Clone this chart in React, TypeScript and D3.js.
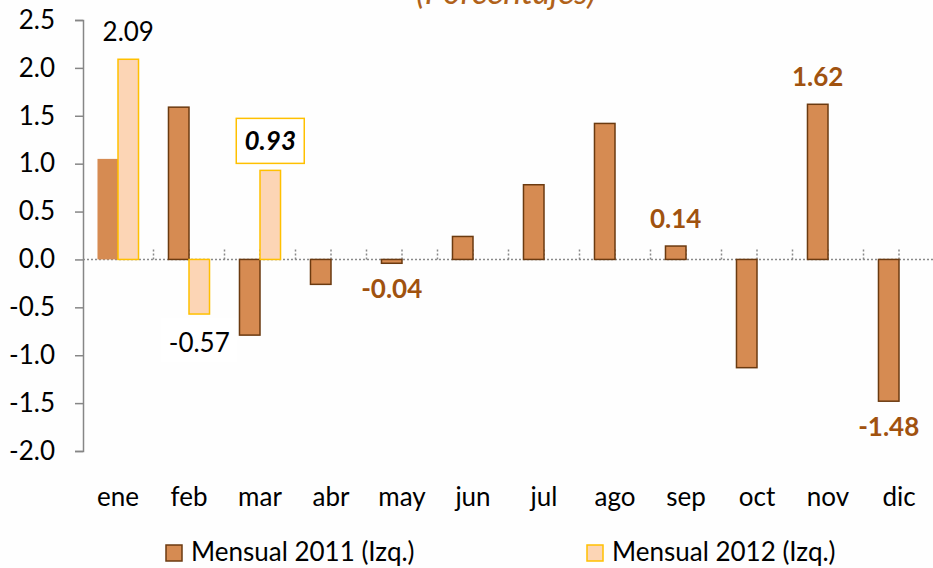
import { useEffect, useRef } from 'react';
import * as d3 from 'd3';

const months = ['ene', 'feb', 'mar', 'abr', 'may', 'jun', 'jul', 'ago', 'sep', 'oct', 'nov', 'dic'];
const mensual2011 = [1.05, 1.59, -0.79, -0.26, -0.04, 0.24, 0.78, 1.42, 0.14, -1.13, 1.62, -1.48];
const mensual2012 = [2.09, -0.57, 0.93];
const yTicks = [2.5, 2.0, 1.5, 1.0, 0.5, 0.0, -0.5, -1.0, -1.5, -2.0];
const seriesNames = ['Mensual 2011 (Izq.)', 'Mensual 2012 (Izq.)'];

const FONT = 'Lato, "Open Sans", sans-serif';
const FS = '26px';
const BROWN_FILL = '#D68B52';
const BROWN_STROKE = '#6B3A10';
const PEACH_FILL = '#FCD5B5';
const GOLD = '#FFC000';
const LABEL_BROWN = '#A0520F';

export default function App() {
  const svgRef = useRef<SVGSVGElement>(null);

  useEffect(() => {
    const width = 933;
    const height = 568;
    const svg = d3.select(svgRef.current);
    svg.selectAll('*').remove();
    svg.attr('width', width).attr('height', height);

    svg.append('rect').attr('width', width).attr('height', height).attr('fill', '#fefefe');

    const x = d3.scaleBand().domain(months).range([82.5, 934.5]).paddingInner(0);
    const sub = d3.scaleBand().domain(['2011', '2012']).range([0, x.bandwidth()]).paddingOuter(0.73);
    const y = d3.scaleLinear().domain([-2, 2.5]).range([451, 20]);
    const fmt = (v: number) => (v < 0 ? '-' : '') + Math.abs(v).toFixed(1);

    // title, mostly cut off at the top (as in the source)
    svg.append('text')
      .attr('x', 506).attr('y', 4)
      .attr('text-anchor', 'middle')
      .style('font-family', FONT).style('font-style', 'italic')
      .style('font-size', '34px').attr('fill', '#B0621A')
      .text('(Porcentajes)');

    // y axis
    const yAxis = svg.append('g')
      .attr('transform', 'translate(83,0)')
      .call(d3.axisLeft(y).tickValues(yTicks).tickFormat(d => fmt(+d)).tickSize(8).tickPadding(20));
    yAxis.select('.domain').attr('stroke', '#868686').attr('stroke-width', 1.5);
    yAxis.selectAll('.tick line').attr('stroke', '#868686').attr('stroke-width', 1.5);
    yAxis.selectAll('.tick text')
      .attr('fill', '#000')
      .style('font-family', FONT).style('font-size', FS);

    // zero line + small dotted ticks
    const y0 = y(0);
    svg.append('line')
      .attr('x1', 83).attr('x2', width).attr('y1', y0).attr('y2', y0)
      .attr('stroke', '#8a8a8a').attr('stroke-width', 1.5).attr('stroke-dasharray', '2,2');
    const tickXs: number[] = [];
    months.forEach((m, i) => {
      if (i > 0) tickXs.push(x(m)!);
      tickXs.push(x(m)! + x.bandwidth() / 2);
    });
    svg.append('g').selectAll('line')
      .data(tickXs)
      .join('line')
      .attr('x1', d => d).attr('x2', d => d)
      .attr('y1', y0 - 10).attr('y2', y0)
      .attr('stroke', '#8a8a8a').attr('stroke-width', 1.5).attr('stroke-dasharray', '2,2');

    // bars 2011
    svg.append('g').selectAll('rect')
      .data(mensual2011)
      .join('rect')
      .attr('x', (d, i) => x(months[i])! + sub('2011')!)
      .attr('width', sub.bandwidth())
      .attr('y', d => y(Math.max(0, d)))
      .attr('height', d => Math.abs(y(d) - y0))
      .attr('fill', BROWN_FILL)
      .attr('stroke', (d, i) => (i === 0 ? 'none' : BROWN_STROKE))
      .attr('stroke-width', 1.5);

    // bars 2012
    svg.append('g').selectAll('rect')
      .data(mensual2012)
      .join('rect')
      .attr('x', (d, i) => x(months[i])! + sub('2012')!)
      .attr('width', sub.bandwidth())
      .attr('y', d => y(Math.max(0, d)))
      .attr('height', d => Math.abs(y(d) - y0))
      .attr('fill', PEACH_FILL)
      .attr('stroke', GOLD)
      .attr('stroke-width', 1.5);

    const cx2011 = (i: number) => x(months[i])! + sub('2011')! + sub.bandwidth() / 2;
    const cx2012 = (i: number) => x(months[i])! + sub('2012')! + sub.bandwidth() / 2;

    // 2012 labels
    svg.append('text')
      .attr('x', cx2012(0)).attr('y', y(mensual2012[0]) - 18)
      .attr('text-anchor', 'middle')
      .style('font-family', FONT).style('font-size', FS)
      .text(mensual2012[0].toFixed(2));

    svg.append('rect')
      .attr('x', cx2012(1) - 38).attr('y', y(mensual2012[1]) + 4)
      .attr('width', 76).attr('height', 44).attr('fill', '#fff');
    svg.append('text')
      .attr('x', cx2012(1)).attr('y', y(mensual2012[1]) + 38)
      .attr('text-anchor', 'middle')
      .style('font-family', FONT).style('font-size', FS)
      .text(mensual2012[1].toFixed(2));

    svg.append('rect')
      .attr('x', cx2012(2) - 34).attr('y', y(mensual2012[2]) - 52)
      .attr('width', 68).attr('height', 45)
      .attr('fill', '#fff').attr('stroke', GOLD).attr('stroke-width', 1.5);
    svg.append('text')
      .attr('x', cx2012(2)).attr('y', y(mensual2012[2]) - 20)
      .attr('text-anchor', 'middle')
      .style('font-family', FONT).style('font-size', FS)
      .style('font-weight', 'bold').style('font-style', 'italic')
      .text(mensual2012[2].toFixed(2));

    // highlighted 2011 labels
    const labelled = [4, 8, 10, 11];
    svg.append('g').selectAll('text')
      .data(labelled)
      .join('text')
      .attr('x', i => cx2011(i))
      .attr('y', i => (mensual2011[i] >= 0 ? y(mensual2011[i]) - 18 : y(mensual2011[i]) + 35))
      .attr('text-anchor', 'middle')
      .attr('fill', LABEL_BROWN)
      .style('font-family', FONT).style('font-size', FS).style('font-weight', 'bold')
      .text(i => mensual2011[i].toFixed(2));

    // x labels
    svg.append('g').selectAll('text')
      .data(months)
      .join('text')
      .attr('x', d => x(d)! + x.bandwidth() / 2)
      .attr('y', 506)
      .attr('text-anchor', 'middle')
      .style('font-family', FONT).style('font-size', FS)
      .text(d => d);

    // legend
    const legend = [
      { name: seriesNames[0], x: 166, fill: BROWN_FILL, stroke: BROWN_STROKE },
      { name: seriesNames[1], x: 587, fill: PEACH_FILL, stroke: GOLD },
    ];
    const lg = svg.append('g').selectAll('g').data(legend).join('g');
    lg.append('rect')
      .attr('x', d => d.x).attr('y', 545).attr('width', 16).attr('height', 16)
      .attr('fill', d => d.fill).attr('stroke', d => d.stroke).attr('stroke-width', 1.5);
    lg.append('text')
      .attr('x', d => d.x + 25).attr('y', 561)
      .style('font-family', FONT).style('font-size', FS)
      .text(d => d.name);
  }, []);

  return <svg ref={svgRef} style={{ position: 'absolute', left: 0, top: 0, display: 'block' }} />;
}
